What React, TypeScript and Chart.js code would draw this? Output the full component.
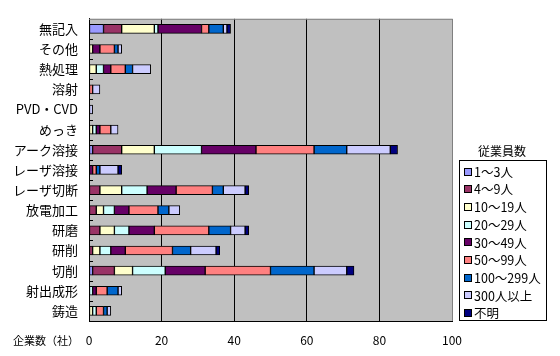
import React, { useEffect, useRef } from "react";
import { Chart, registerables } from "chart.js";

Chart.register(...registerables);

const categories = ["無記入", "その他", "熱処理", "溶射", "PVD・CVD", "めっき", "アーク溶接", "レーザ溶接", "レーザ切断", "放電加工", "研磨", "研削", "切削", "射出成形", "鋳造"];

const seriesNames = ["1～3人", "4～9人", "10～19人", "20～29人", "30～49人", "50～99人", "100～299人", "300人以上", "不明"];
const seriesColors = ["#9999FF", "#993366", "#FFFFCC", "#CCFFFF", "#660066", "#FF8080", "#0066CC", "#CCCCFF", "#000080"];

const s1to3 = [4, 0, 0, 0, 0, 0, 1, 0, 0, 0, 0, 0, 1, 0, 0];
const s4to9 = [5, 0, 0, 0, 0, 0, 8, 0, 3, 2, 3, 1, 6, 0, 0];
const s10to19 = [9, 1, 2, 0, 0, 1, 9, 0, 6, 2, 4, 2, 5, 0, 1];
const s20to29 = [1, 0, 2, 0, 0, 1, 13, 0, 7, 3, 4, 3, 9, 1, 1];
const s30to49 = [12, 2, 2, 0, 0, 1, 15, 1, 8, 4, 7, 4, 11, 1, 0];
const s50to99 = [2, 4, 4, 1, 0, 3, 16, 1, 10, 8, 15, 13, 18, 3, 2];
const s100to299 = [4, 1, 2, 0, 0, 0, 9, 1, 3, 3, 6, 5, 12, 3, 1];
const s300plus = [1, 1, 5, 2, 1, 2, 12, 5, 6, 3, 4, 7, 9, 1, 1];
const sUnknown = [1, 0, 0, 0, 0, 0, 2, 1, 1, 0, 1, 1, 2, 0, 0];

const seriesValues = [s1to3, s4to9, s10to19, s20to29, s30to49, s50to99, s100to299, s300plus, sUnknown];

const xTicks = [0, 20, 40, 60, 80, 100];
const xAxisLabel = "企業数（社）";
const legendTitle = "従業員数";

const FONT = "'Noto Sans CJK JP', 'Noto Sans', sans-serif";

const decorPlugin = {
  id: "decor",
  beforeDraw(chart: any) {
    const { ctx, chartArea } = chart;
    ctx.save();
    ctx.fillStyle = "#C0C0C0";
    ctx.fillRect(chartArea.left, chartArea.top, chartArea.right - chartArea.left, chartArea.bottom - chartArea.top);
    ctx.restore();
  },
  afterDraw(chart: any) {
    const { ctx, chartArea } = chart;
    const yScale = chart.scales.y;
    ctx.save();
    ctx.strokeStyle = "#808080";
    ctx.lineWidth = 1;
    ctx.beginPath();
    ctx.moveTo(chartArea.left, chartArea.top + 0.5);
    ctx.lineTo(chartArea.right, chartArea.top + 0.5);
    ctx.stroke();
    ctx.strokeStyle = "#000";
    const n = categories.length;
    const step = (chartArea.bottom - chartArea.top) / n;
    for (let i = 1; i < n; i++) {
      const y = Math.round(yScale.getPixelForValue(i) - step / 2) + 0.5;
      ctx.beginPath();
      ctx.moveTo(chartArea.left, y);
      ctx.lineTo(chartArea.left + 4, y);
      ctx.stroke();
    }
    ctx.fillStyle = "#000";
    ctx.font = "11px " + FONT;
    ctx.textAlign = "left";
    ctx.textBaseline = "middle";
    ctx.fillText(xAxisLabel, 13, 341);

    const bx = 459.5, by = 160.5, bw = 87, bh = 160;
    ctx.font = "12px " + FONT;
    ctx.textAlign = "center";
    ctx.fillText(legendTitle, 502, 151);
    ctx.fillStyle = "#FFFFFF";
    ctx.fillRect(bx, by, bw, bh);
    ctx.strokeStyle = "#000";
    ctx.strokeRect(bx, by, bw, bh);
    const ds = chart.data.datasets;
    ctx.textAlign = "left";
    ctx.font = "12.5px " + FONT;
    for (let i = 0; i < ds.length; i++) {
      const cy = 171.5 + i * 17.7;
      const sx = 464.5, sy = Math.round(cy - 4) + 0.5;
      ctx.fillStyle = ds[i].backgroundColor;
      ctx.fillRect(sx, sy, 7, 7);
      ctx.strokeStyle = "#000";
      ctx.strokeRect(sx, sy, 7, 7);
      ctx.fillStyle = "#000";
      ctx.fillText(ds[i].label, 474, cy + 0.5);
    }
    ctx.restore();
  },
};

export default function App() {
  const ref = useRef<HTMLCanvasElement | null>(null);

  useEffect(() => {
    if (!ref.current) return;
    const chart = new Chart(ref.current, {
      type: "bar",
      data: {
        labels: categories,
        datasets: seriesNames.map((name, i) => ({
          label: name,
          data: seriesValues[i].map((v) => (v === 0 ? null : v)),
          backgroundColor: seriesColors[i],
          borderColor: "#000000",
          borderWidth: 1,
          borderSkipped: false,
          barThickness: 9,
        })),
      },
      options: {
        indexAxis: "y",
        responsive: false,
        animation: false,
        layout: { padding: { left: 0, right: 108, top: 15, bottom: 0 } },
        plugins: {
          legend: { display: false },
          tooltip: { enabled: false },
        },
        scales: {
          x: {
            stacked: true,
            min: 0,
            max: 100,
            afterBuildTicks(scale: any) {
              scale.ticks = xTicks.map((v) => ({ value: v }));
            },
            afterFit(scale: any) {
              scale.height = 35;
            },
            grid: {
              drawTicks: false,
              color: (c: any) => (c.tick && c.tick.value === 100 ? "#808080" : "#000000"),
              lineWidth: 1,
            },
            border: { display: true, color: "#000000", width: 1 },
            ticks: {
              color: "#000",
              font: { size: 12, family: FONT },
              padding: 12,
              maxRotation: 0,
            },
          },
          y: {
            stacked: true,
            afterFit(scale: any) {
              scale.width = 89;
            },
            grid: { display: false, drawTicks: false },
            border: { display: true, color: "#000000", width: 1 },
            ticks: {
              color: "#000",
              font: { size: 13, family: FONT },
              padding: 11,
              autoSkip: false,
            },
          },
        },
      },
      plugins: [decorPlugin],
    });
    return () => chart.destroy();
  }, []);

  return (
    <div style={{ position: "fixed", left: 0, top: 0, width: 560, height: 356, background: "#fff" }}>
      <canvas ref={ref} width={560} height={356} />
    </div>
  );
}
